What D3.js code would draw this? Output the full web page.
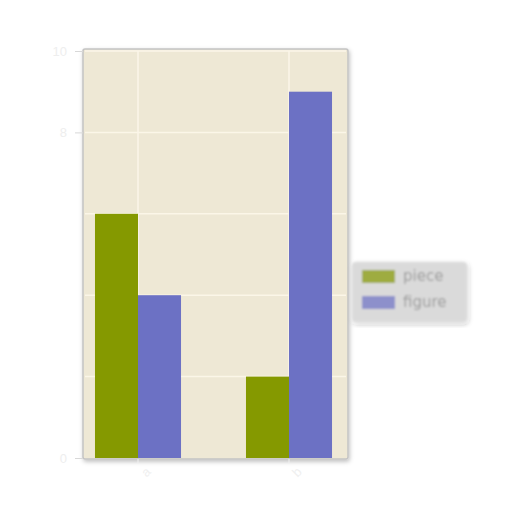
<!DOCTYPE html>
<html>
<head>
<meta charset="utf-8">
<script src="https://cdn.jsdelivr.net/npm/d3@7"></script>
<style>
  body { margin: 0; background: #fff; }
  svg { display: block; font-family: 'DejaVu Sans', sans-serif; }
</style>
</head>
<body>
<svg id="chart" width="512" height="512"></svg>
<script>
'use strict';

const groups = ['a', 'b'];
const series = ['piece', 'figure'];
const pieceValues = [6, 2];
const figureValues = [4, 9];
const yTicks = [0, 8, 10];
const yGrid = [2, 4, 6, 8, 10];
const colors = ['#859900', '#6c71c4'];

const data = groups.map((g, i) => ({
  group: g,
  values: [
    { key: series[0], value: pieceValues[i] },
    { key: series[1], value: figureValues[i] }
  ]
}));

const svg = d3.select('#chart');
const panel = { left: 83, right: 348, top: 49, bottom: 459 };

const defs = svg.append('defs');
const shadow = defs.append('filter').attr('id', 'shadow')
    .attr('x', '-10%').attr('y', '-10%').attr('width', '120%').attr('height', '120%');
shadow.append('feDropShadow')
    .attr('dx', 1).attr('dy', 2).attr('stdDeviation', 2)
    .attr('flood-color', '#000').attr('flood-opacity', 0.25);
const soft = defs.append('filter').attr('id', 'soft');
soft.append('feGaussianBlur').attr('stdDeviation', 0.8);

const x0 = d3.scaleBand()
    .domain(groups)
    .range([62.5, 364.5]);

const x1 = d3.scaleBand()
    .domain(series)
    .range([0, x0.bandwidth()])
    .paddingOuter(0.755);

const y = d3.scaleLinear()
    .domain([0, 10])
    .range([458, 51]);

// panel
svg.append('rect')
    .attr('x', panel.left)
    .attr('y', panel.top)
    .attr('width', panel.right - panel.left)
    .attr('height', panel.bottom - panel.top)
    .attr('rx', 2)
    .style('fill', '#eee8d5')
    .style('stroke', '#c4c4c4')
    .style('stroke-width', 1.5)
    .attr('filter', 'url(#shadow)');

// grid
svg.append('g').selectAll('line.h')
    .data(yGrid)
  .enter().append('line')
    .attr('x1', panel.left + 2)
    .attr('x2', panel.right - 2)
    .attr('y1', d => y(d))
    .attr('y2', d => y(d))
    .style('stroke', '#fbf6e8')
    .style('stroke-width', 1.5);

svg.append('g').selectAll('line.v')
    .data(groups)
  .enter().append('line')
    .attr('x1', d => x0(d) + x0.bandwidth() / 2)
    .attr('x2', d => x0(d) + x0.bandwidth() / 2)
    .attr('y1', panel.top + 2)
    .attr('y2', panel.bottom - 2)
    .style('stroke', '#fbf6e8')
    .style('stroke-width', 1.5);

// bars
const g = svg.append('g').selectAll('g')
    .data(data)
  .enter().append('g')
    .attr('transform', d => `translate(${x0(d.group)}, 0)`);

g.selectAll('rect')
    .data(d => d.values)
  .enter().append('rect')
    .attr('x', d => x1(d.key))
    .attr('y', d => y(d.value))
    .attr('width', x1.bandwidth())
    .attr('height', d => y(0) - y(d.value))
    .style('fill', (d, i) => colors[i]);

// y axis, faint
const yAxis = d3.axisLeft(y)
    .tickValues(yTicks)
    .tickSize(8)
    .tickPadding(8);

const ya = svg.append('g')
    .attr('transform', `translate(${panel.left}, 0)`)
    .call(yAxis);
ya.select('.domain').remove();
ya.selectAll('line').style('stroke', '#d8d8d8');
ya.selectAll('text')
    .style('fill', '#eeeeee')
    .style('font-size', 13);

// x labels, faint
const xa = svg.append('g')
    .attr('transform', `translate(0, ${panel.bottom})`)
    .call(d3.axisBottom(x0).tickSize(4).tickPadding(6));
xa.select('.domain').remove();
xa.selectAll('line').style('stroke', '#f0f0f0');
xa.selectAll('text')
    .style('fill', '#f0f0f0')
    .style('font-size', 13)
    .attr('text-anchor', 'end')
    .attr('transform', 'rotate(-45)');

// legend
const legend = svg.append('g')
    .attr('transform', 'translate(352, 262)')
    .attr('filter', 'url(#soft)');

legend.append('rect')
    .attr('width', 115)
    .attr('height', 60)
    .attr('rx', 4)
    .style('fill', '#dadada')
    .style('stroke', '#e4e4e4')
    .attr('filter', 'url(#shadow)');

const items = legend.selectAll('g.item')
    .data(series)
  .enter().append('g')
    .attr('transform', (d, i) => `translate(10, ${8 + i * 26})`);

items.append('rect')
    .attr('width', 33)
    .attr('height', 13)
    .style('fill', (d, i) => colors[i])
    .style('opacity', 0.7);

items.append('text')
    .attr('x', 41)
    .attr('y', 11)
    .style('fill', '#9c9c9c')
    .style('font-size', 15)
    .text(d => d);
</script>
</body>
</html>
